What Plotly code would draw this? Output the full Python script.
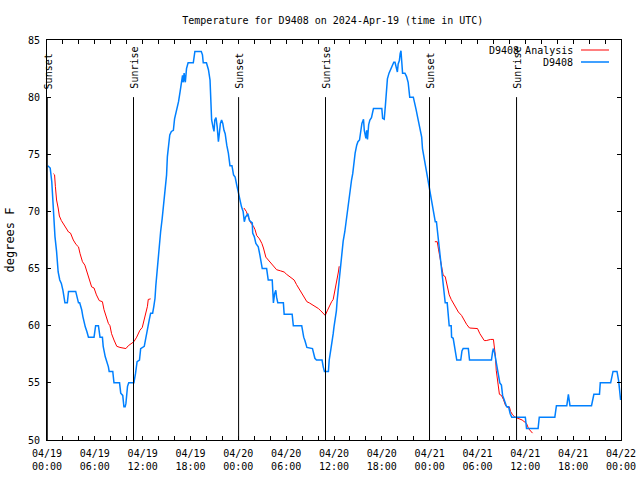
import pandas as pd
import plotly.graph_objects as go

BASE = pd.Timestamp("2024-04-19 00:00")

# Observed temperature D9408 (hours since 2024-04-19 00:00 UTC, degrees F)
obs_hours = [0.1,0.4,0.6,0.75,0.85,1.0,1.2,1.4,1.6,1.8,2.0,2.1,2.25,2.55,2.7,3.6,3.8,3.95,4.1,4.35,4.5,4.65,4.8,5.0,5.2,5.9,6.1,6.45,6.65,6.95,7.05,7.3,7.5,7.7,7.8,8.25,8.4,9.1,9.25,9.5,9.65,9.8,9.9,10.1,10.25,10.9,11.1,11.3,11.6,11.75,12.2,12.4,12.6,12.85,13.0,13.25,13.4,13.55,13.65,13.75,13.95,14.1,14.25,14.45,14.65,14.85,15.0,15.1,15.25,15.4,15.6,15.85,16.0,16.2,16.35,16.5,16.7,16.85,17.0,17.1,17.2,17.35,17.5,17.7,18.35,18.55,19.35,19.5,19.6,20.0,20.25,20.45,20.55,20.65,20.85,20.95,21.05,21.2,21.35,21.5,21.6,21.75,21.9,22.05,22.2,22.35,22.55,22.75,22.95,23.2,23.4,23.6,23.8,24.0,24.2,24.4,24.6,24.75,24.9,25.2,25.4,25.55,25.75,25.8,26.0,26.2,26.5,26.7,26.85,27.0,27.55,27.7,27.75,28.25,28.3,28.4,28.55,28.7,28.8,28.95,29.65,29.75,30.75,30.9,31.95,32.1,32.2,32.35,32.6,33.3,33.45,33.6,33.8,34.5,34.65,34.8,35.3,35.4,35.6,35.75,35.9,36.0,36.15,36.3,36.4,36.55,36.7,36.85,36.95,37.15,37.35,37.5,37.7,37.85,38.0,38.2,38.35,38.5,38.65,38.85,39.0,39.2,39.35,39.5,39.7,39.8,40.0,40.1,40.2,40.35,40.5,40.7,40.95,42.0,42.1,42.3,42.45,42.6,42.7,42.9,43.1,43.3,43.5,43.65,43.8,43.95,44.05,44.2,44.3,44.4,44.5,44.6,44.9,45.1,45.3,45.45,45.5,45.95,46.1,46.3,46.5,46.65,46.85,47.0,47.1,47.3,47.4,47.6,47.8,47.9,48.05,48.2,48.4,48.55,48.7,48.85,49.05,49.2,49.4,49.5,49.6,49.8,49.95,50.2,50.35,50.45,50.7,50.75,50.95,51.1,51.2,51.4,51.9,52.05,52.2,52.85,53.0,55.75,55.9,56.0,56.15,56.3,56.4,56.65,56.8,57.0,57.15,57.3,57.5,57.65,57.9,58.1,58.3,60.0,60.15,61.6,61.75,63.7,63.9,65.2,65.4,65.6,68.3,68.5,68.6,69.3,69.4,70.7,70.85,71.0,71.5,71.7,71.95]
obs_temp = [74.0,73.8,72.6,70.7,69.0,67.8,66.5,64.7,64.0,63.7,63.1,62.5,62.0,62.0,63.0,63.0,62.4,62.0,62.0,61.4,60.8,60.2,59.9,59.5,59.0,59.0,60.0,60.0,59.0,59.0,58.2,57.3,56.9,56.4,56.0,56.0,55.0,55.0,54.1,53.9,52.9,52.9,53.2,54.7,55.0,55.0,55.8,56.85,57.0,58.0,58.2,59.0,59.9,60.6,61.1,61.1,61.7,62.4,63.5,64.4,65.6,66.8,68.2,69.4,70.6,72.2,73.2,74.8,76.1,76.7,77.0,77.1,78.1,78.7,79.0,79.6,80.5,81.2,81.9,81.3,82.1,81.3,82.5,83.0,83.0,84.0,84.0,83.7,83.0,83.0,82.4,81.5,78.9,78.0,77.3,77.0,78.0,78.2,77.4,76.1,76.7,77.7,78.0,77.7,77.1,76.8,75.8,75.1,74.0,74.0,73.2,73.0,72.3,71.6,71.0,70.4,70.0,69.1,69.5,69.8,69.2,69.1,69.0,68.1,67.8,67.2,66.9,66.2,65.6,65.0,65.0,64.4,64.0,64.0,63.0,62.0,62.8,63.1,62.5,62.0,62.0,61.0,61.0,60.0,60.0,59.1,59.0,58.7,58.1,58.0,57.6,57.15,57.0,57.0,56.4,56.0,56.0,57.0,57.9,58.5,59.3,59.9,60.6,61.3,62.25,63.4,64.4,65.5,66.3,67.4,68.2,69.1,70.0,70.9,71.9,72.75,73.3,74.35,75.1,75.8,76.1,76.25,77.1,77.7,78.06,77.1,76.4,77.1,76.3,77.6,78.0,78.2,79.0,79.0,78.15,78.06,79.3,80.5,81.6,82.1,82.4,82.8,83.05,83.05,82.7,82.2,82.9,83.2,83.8,84.06,83.1,82.1,82.1,81.8,81.3,80.3,80.0,80.0,79.6,78.9,78.2,77.7,77.1,76.5,75.5,74.7,74.1,73.4,72.8,72.3,71.7,71.0,70.3,69.6,69.1,69.1,67.8,66.8,65.9,65.2,64.5,63.3,62.0,62.0,60.65,60.0,60.0,59.0,58.9,58.2,57.75,57.0,57.0,57.8,58.0,58.0,57.0,57.0,57.75,58.0,57.6,57.0,56.7,55.7,55.0,54.8,53.9,53.6,53.15,52.9,52.9,52.3,52.0,52.0,51.0,51.0,52.0,52.0,53.0,53.0,54.0,53.0,53.0,53.9,54.0,54.0,55.0,55.0,55.4,56.0,56.0,55.2,53.5]

# Analysis D9408 (three segments, None = gap)
ana_hours = [0.8,0.95,1.05,1.2,1.4,1.55,1.8,2.25,2.7,2.95,3.3,3.65,3.95,4.15,4.45,4.75,5.0,5.3,5.6,5.9,6.2,6.55,6.95,7.15,7.4,7.7,7.9,8.1,8.4,8.75,9.15,9.6,9.9,10.2,10.6,10.9,11.25,11.65,11.95,12.15,12.4,12.6,12.7,13.0,
             13.5,
             24.7,25.0,25.25,25.55,25.9,26.1,26.3,26.65,26.95,27.15,27.45,27.75,28.05,28.4,28.8,29.3,29.75,30.05,30.5,31.0,31.3,31.65,31.95,32.25,32.6,32.9,33.35,33.75,34.05,34.35,34.65,34.9,35.15,35.4,35.7,35.9,36.05,36.25,36.4,36.55,36.65,
             37.0,
             48.65,48.95,49.1,49.3,49.5,49.7,49.95,50.2,50.45,50.7,50.95,51.3,51.6,52.0,52.3,52.65,53.0,53.5,54.0,54.3,54.6,54.85,55.1,55.35,55.65,56.0,56.1,56.25,56.35,56.5,56.65,56.75,57.0,57.25,57.5,57.75,58.0,58.15,58.4,58.7,59.6,60.15,60.4,60.9]
ana_temp = [73.3,73.2,72.2,71.0,70.3,69.6,69.2,68.7,68.2,68.1,67.5,67.1,66.9,66.3,65.6,65.3,64.7,64.0,63.4,63.3,62.7,62.2,62.1,61.4,60.75,60.2,60.0,59.3,58.75,58.2,58.1,58.0,58.0,58.25,58.45,58.6,59.0,59.6,59.85,60.35,61.1,61.7,62.3,62.35,
            None,
            70.3,70.0,69.5,69.0,68.7,68.4,67.9,67.6,67.2,66.8,66.0,65.75,65.5,65.2,64.9,64.8,64.7,64.5,64.3,64.0,63.6,63.2,62.8,62.4,62.1,62.0,61.8,61.7,61.5,61.3,61.1,60.9,61.3,61.7,62.1,62.3,62.8,63.4,64.1,64.7,65.2,
            None,
            67.35,67.35,66.7,65.9,65.2,64.4,64.3,63.4,62.7,62.3,62.0,61.5,61.2,60.9,60.5,60.1,59.8,59.8,59.75,59.3,58.9,58.7,58.7,58.75,58.8,58.8,58.2,57.3,56.1,55.1,54.5,54.0,53.9,53.55,53.05,52.85,52.9,52.5,52.2,52.0,51.75,51.45,51.0,50.6]

sunset_times = ["2024-04-19 00:02", "2024-04-20 00:02", "2024-04-20 23:59"]
sunrise_times = ["2024-04-19 10:51", "2024-04-20 10:56", "2024-04-21 10:54"]

series_names = ["D9408 Analysis", "D9408"]
series_colors = ["#ff0000", "#0080ff"]

tick_vals = ["2024-04-19 00:00", "2024-04-19 06:00", "2024-04-19 12:00", "2024-04-19 18:00",
             "2024-04-20 00:00", "2024-04-20 06:00", "2024-04-20 12:00", "2024-04-20 18:00",
             "2024-04-21 00:00", "2024-04-21 06:00", "2024-04-21 12:00", "2024-04-21 18:00",
             "2024-04-22 00:00"]
tick_text = ["04/19<br>00:00", "04/19<br>06:00", "04/19<br>12:00", "04/19<br>18:00",
             "04/20<br>00:00", "04/20<br>06:00", "04/20<br>12:00", "04/20<br>18:00",
             "04/21<br>00:00", "04/21<br>06:00", "04/21<br>12:00", "04/21<br>18:00",
             "04/22<br>00:00"]
y_ticks = [50, 55, 60, 65, 70, 75, 80, 85]

FONT = "DejaVu Sans Mono"
W, H = 640, 480
L, R, T, B = 47, 19, 40, 40
PW, PH = W - L - R, H - T - B


def to_time(hours):
    return [BASE + pd.Timedelta(hours=h) if h is not None else None for h in hours]


def px_x(px):
    return (px - L) / PW


def px_y(py):
    return (H - B - py) / PH


fig = go.Figure()
fig.add_trace(go.Scatter(x=to_time(ana_hours), y=ana_temp, mode="lines", name=series_names[0],
                         line=dict(color=series_colors[0], width=1), connectgaps=False,
                         showlegend=False))
fig.add_trace(go.Scatter(x=to_time(obs_hours), y=obs_temp, mode="lines", name=series_names[1],
                         line=dict(color=series_colors[1], width=1.5), showlegend=False))

# gnuplot-style key: text right-aligned, sample line to its right
for i, (name, col) in enumerate(zip(series_names, series_colors)):
    yy = px_y(50 + 12 * i)
    fig.add_annotation(x=px_x(575), y=yy, xref="paper", yref="paper", text=name,
                       showarrow=False, xanchor="right", yanchor="middle",
                       font=dict(family=FONT, size=10, color="black"))
    fig.add_shape(type="line", xref="paper", yref="paper", x0=px_x(581), x1=px_x(609),
                  y0=yy, y1=yy, line=dict(color=col, width=1.5 if i else 1))

for label, times in (("Sunset", sunset_times), ("Sunrise", sunrise_times)):
    for t in times:
        fig.add_shape(type="line", xref="x", yref="y", x0=t, x1=t, y0=50, y1=80,
                      line=dict(color="black", width=1))
        fig.add_annotation(x=t, y=80, xref="x", yref="y", text=label, showarrow=False,
                           textangle=-90, xanchor="center", yanchor="bottom", yshift=6, xshift=1,
                           font=dict(family=FONT, size=10, color="black"))

fig.update_layout(
    width=W, height=H,
    paper_bgcolor="white", plot_bgcolor="white",
    margin=dict(l=L, r=R, t=T, b=B, autoexpand=False),
    title=dict(text="Temperature for D9408 on 2024-Apr-19 (time in UTC)", x=0.52, xanchor="center",
               y=1 - 20 / H, yanchor="middle", automargin=False,
               font=dict(family=FONT, size=10, color="black")),
    font=dict(family=FONT, size=10, color="black"),
    showlegend=False,
)
fig.update_xaxes(type="date", range=["2024-04-19 00:00", "2024-04-22 00:00"],
                 tickvals=tick_vals, ticktext=tick_text, ticks="inside", ticklen=4,
                 ticklabelstandoff=4,
                 tickcolor="black", showline=True, linecolor="black", linewidth=1, mirror="ticks",
                 showgrid=False, zeroline=False, automargin=False,
                 minor=dict(dtick=2 * 3600 * 1000, ticks="inside", ticklen=4, tickcolor="black",
                            showgrid=False))
fig.update_yaxes(range=[50, 85], tickvals=y_ticks, ticks="inside", ticklen=4, tickcolor="black",
                 ticklabelstandoff=4,
                 showline=True, linecolor="black", linewidth=1, mirror="ticks", showgrid=False,
                 zeroline=False, automargin=False, title=dict(text="degrees F", standoff=10))

fig.write_html("out.html", config={"displayModeBar": False},
               post_script="document.body.style.margin='0';document.body.style.padding='0';")
